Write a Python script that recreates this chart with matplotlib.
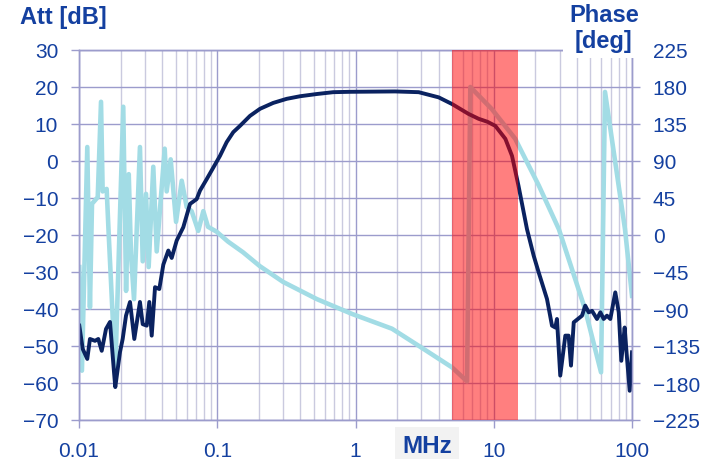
import matplotlib
matplotlib.use("Agg")
from matplotlib import pyplot as plt
from matplotlib.ticker import FixedLocator, LogLocator, NullFormatter

plt.rcParams["font.family"] = ["Liberation Sans", "DejaVu Sans"]

# attenuation curve (left axis, dB)
att_freq = [0.01005, 0.01064, 0.01148, 0.0120, 0.01305, 0.01379, 0.0146, 0.01568, 0.01676,
            0.01791, 0.0183, 0.0198, 0.0207, 0.02188, 0.02339, 0.02512, 0.0276, 0.0289,
            0.0309, 0.03225, 0.03357, 0.03548, 0.0381, 0.04074, 0.04426, 0.04683, 0.05089,
            0.0568, 0.06353, 0.0710, 0.0750, 0.0839, 0.1047, 0.117, 0.1306, 0.1461, 0.1726,
            0.2037, 0.254, 0.3177, 0.397, 0.524, 0.690, 0.912, 1.93, 2.864, 3.996, 4.99,
            6.59, 7.78, 9.0, 10.26, 12.13, 13.55, 15.1,
            17.39, 19.45, 21.13, 24.27, 26.38, 27.87, 28.66, 30.27, 32.94, 34.8, 36.2, 37.9,
            43.5, 45.9, 48.6, 51.4, 55.8, 59.0, 62.4, 65.9, 69.7, 75.7, 80.2, 83.7, 88.5,
            90.9, 96.2, 100]
att_db = [-44.5, -50.8, -53.5, -48.1, -48.6, -48.1, -51.3, -45.4, -43.5,
          -57.0, -61.1, -51.6, -48.1, -41.8, -38.1, -48.1, -38.1, -44.1,
          -44.5, -38.1, -47.2, -34.1, -34.6, -28.0, -24.2, -26.2, -21.5,
          -17.9, -11.6, -10.3, -8.0, -4.9, 1.4, 5.1, 7.8, 9.5, 12.2,
          14.1, 15.7, 16.8, 17.5, 18.1, 18.6, 18.7, 18.8, 18.6, 17.2, 15.4,
          12.7, 11.4, 10.6, 9.5, 6.0, 1.4, -6.7,
          -18.4, -25.6, -30.1, -37.3, -44.5, -45.0, -42.7, -58.0, -47.2, -47.2, -55.3, -43.6,
          -41.8, -39.1, -40.9, -40.5, -42.7, -40.9, -42.7, -41.8, -42.7, -35.5, -40.9, -54.0, -45.0,
          -50.8, -62.1, -51.7]

# phase curve (right axis, deg)
ph_freq = [0.01005, 0.0105, 0.01148, 0.0120, 0.01242, 0.01366, 0.01443, 0.01483, 0.01585,
           0.0164, 0.0183, 0.0209, 0.0219, 0.0229, 0.02377, 0.025, 0.0276, 0.0289, 0.03053,
           0.0319, 0.03446, 0.03648, 0.04168, 0.04306, 0.04604, 0.05035, 0.05534, 0.0601,
           0.0653, 0.0729, 0.0793, 0.0857, 0.099, 0.1196, 0.1536, 0.2037, 0.299, 0.526, 0.944,
           1.838, 2.88, 4.99, 6.41, 6.77, 9.7, 14.3, 21.2, 29.6, 45.7, 59.7, 63.8, 89, 100]
ph_deg = [-39, -165, 107, -88, 38, 46, 162, 53, 56,
          1, -165, 156, -68, 74, -23, -78, 107, -32, 50,
          -39, 83, -20, 105, 53, 92, 16, 66, 34,
          29, 5, 29, 10, 4, -8, -21, -38, -57, -78, -96,
          -114, -135, -161, -178, 180, 153, 117, 60, 7, -90, -167, 174, 7, -74]

band = (5, 15)  # MHz
x_ticks = [0.01, 0.1, 1, 10, 100]
x_labels = ["0.01", "0.1", "1", "10", "100"]
att_ticks = list(range(-70, 31, 10))
ph_ticks = list(range(-225, 226, 45))

blue = "#1440A0"
grid_major = "#9C9CCC"
grid_minor = "#CACADF"

fig = plt.figure(figsize=(7.04, 4.60), dpi=100)
ax = fig.add_axes([79 / 704, 1 - 421 / 460, 553 / 704, 370 / 460])
ax2 = ax.twinx()

# phase axis sits underneath, carries the grid
ax.set_zorder(ax2.get_zorder() + 1)
ax.patch.set_visible(False)

ax2.plot(ph_freq, ph_deg, color="#A2DCE5", lw=3.3, solid_joinstyle="round")
ax.plot(att_freq, att_db, color="#0A2260", lw=2.8, solid_joinstyle="round")
ax.axvspan(band[0], band[1], color="#FF0000", alpha=0.5, lw=0, zorder=5)

ax.set_xscale("log")
ax.set_xlim(0.01, 100)
ax.set_ylim(-70, 30)
ax2.set_ylim(-225, 225)

ax.xaxis.set_major_locator(FixedLocator(x_ticks))
ax.set_xticklabels(x_labels)
ax.xaxis.set_minor_locator(LogLocator(base=10, subs=range(2, 10), numticks=20))
ax.xaxis.set_minor_formatter(NullFormatter())
ax.set_yticks(att_ticks)
ax2.set_yticks(ph_ticks)

ax2.xaxis.set_visible(True)
ax2.tick_params(axis="x", which="both", length=0, labelbottom=False, labeltop=False)
ax2.grid(True, axis="x", which="major", color=grid_major, lw=1.0)
ax2.grid(True, axis="x", which="minor", color=grid_minor, lw=1.0)
ax2.grid(True, axis="y", which="major", color=grid_major, lw=1.0)

ax.tick_params(axis="both", which="major", direction="out", length=6, width=1.0,
               color=grid_major, labelcolor=blue, labelsize=15, pad=9)
ax.tick_params(axis="x", which="minor", length=0)
ax2.tick_params(axis="y", direction="out", length=6, width=1.0,
                color=grid_major, labelcolor=blue, labelsize=15, pad=9)

for a in (ax, ax2):
    for s in a.spines.values():
        s.set_color(grid_major)
        s.set_linewidth(1.0)

fig.text(20 / 704, 1 - 6 / 460, "Att [dB]", color=blue, fontsize=17, fontweight="bold",
         ha="left", va="top")
fig.text(604 / 704, 1 - 4 / 460, "Phase\n[deg]", color=blue, fontsize=17, fontweight="bold",
         ha="center", va="top", multialignment="center", linespacing=1.15,
         bbox=dict(boxstyle="square,pad=0.25", facecolor="white", edgecolor="none"))
fig.text(427 / 704, 1 - 453 / 460, "MHz", color=blue, fontsize=17.5, fontweight="bold",
         ha="center", va="baseline",
         bbox=dict(boxstyle="square,pad=0.3", facecolor="#F2F2F2", edgecolor="none"))

fig.savefig("out.png", dpi=100)
